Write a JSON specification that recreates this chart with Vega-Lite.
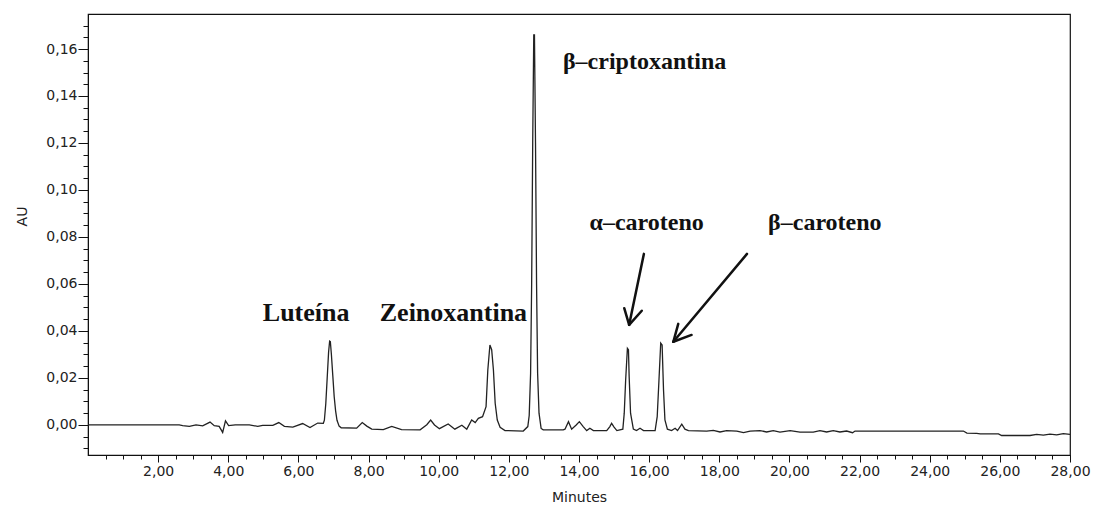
{
  "$schema": "https://vega.github.io/schema/vega-lite/v6.json",
  "width": 982,
  "height": 441,
  "autosize": {"type": "none"},
  "padding": {"left": 88, "top": 14, "right": 25, "bottom": 50},
  "background": "white",
  "config": {
    "view": {"stroke": "#111", "strokeWidth": 1.2},
    "axis": {
      "grid": false,
      "domainColor": "#111",
      "tickColor": "#111",
      "labelFont": "DejaVu Sans",
      "labelFontSize": 14,
      "labelColor": "#222",
      "titleFont": "DejaVu Sans",
      "titleFontSize": 14,
      "titleFontWeight": "normal",
      "titleColor": "#222"
    }
  },
  "datasets": {
    "trace": [
      {"t":0,"v":0},{"t":2.6,"v":0},{"t":2.70,"v":-0.0003},{"t":2.89,"v":-0.0006},{"t":3.08,"v":0},{"t":3.27,"v":-0.0004},{"t":3.48,"v":0.0012},{"t":3.60,"v":-0.0003},{"t":3.74,"v":-0.0006},{"t":3.84,"v":-0.0032},{"t":3.92,"v":0.0017},{"t":4.01,"v":-0.0003},{"t":4.2,"v":0},{"t":4.6,"v":0},{"t":4.84,"v":-0.0006},{"t":4.98,"v":-0.0002},{"t":5.27,"v":-0.0002},{"t":5.44,"v":0.001},{"t":5.60,"v":-0.0006},{"t":5.84,"v":-0.0009},{"t":6.12,"v":0.0006},{"t":6.33,"v":-0.0011},{"t":6.55,"v":0.0008},{"t":6.71,"v":0.0007},
      {"t":6.74,"v":0.002},{"t":6.78,"v":0.009},{"t":6.82,"v":0.020},{"t":6.86,"v":0.031},{"t":6.89,"v":0.0357},{"t":6.91,"v":0.0355},{"t":6.94,"v":0.030},{"t":6.98,"v":0.021},{"t":7.02,"v":0.012},{"t":7.06,"v":0.006},{"t":7.10,"v":0.002},{"t":7.16,"v":-0.0005},{"t":7.22,"v":-0.0012},
      {"t":7.66,"v":-0.0014},{"t":7.82,"v":0.001},{"t":7.95,"v":-0.0005},{"t":8.09,"v":-0.0018},{"t":8.42,"v":-0.002},{"t":8.66,"v":-0.0006},{"t":8.94,"v":-0.002},{"t":9.47,"v":-0.0021},{"t":9.66,"v":0.0001},{"t":9.77,"v":0.0021},{"t":9.88,"v":0},{"t":10.02,"v":-0.0016},{"t":10.27,"v":0.0004},{"t":10.46,"v":-0.0018},{"t":10.66,"v":-0.0001},{"t":10.80,"v":-0.0018},{"t":10.94,"v":0.0021},{"t":11.04,"v":0.001},{"t":11.13,"v":0.0028},{"t":11.25,"v":0.0035},{"t":11.35,"v":0.0078},{"t":11.40,"v":0.0234},{"t":11.46,"v":0.034},{"t":11.51,"v":0.032},{"t":11.56,"v":0.0234},{"t":11.61,"v":0.0092},{"t":11.67,"v":0.0021},{"t":11.75,"v":-0.001},{"t":11.89,"v":-0.0024},{"t":12.41,"v":-0.0026},{"t":12.54,"v":-0.0007},
      {"t":12.58,"v":0.004},{"t":12.62,"v":0.022},{"t":12.65,"v":0.06},{"t":12.68,"v":0.12},{"t":12.71,"v":0.166},{"t":12.73,"v":0.166},{"t":12.76,"v":0.12},{"t":12.79,"v":0.06},{"t":12.82,"v":0.022},{"t":12.86,"v":0.005},{"t":12.92,"v":-0.0015},{"t":12.98,"v":-0.0021},
      {"t":13.55,"v":-0.0021},{"t":13.60,"v":-0.0018},{"t":13.70,"v":0.0014},{"t":13.79,"v":-0.0018},{"t":13.92,"v":0},{"t":14.01,"v":0.0014},{"t":14.12,"v":-0.0007},{"t":14.22,"v":-0.0024},{"t":14.31,"v":-0.0014},{"t":14.41,"v":-0.0024},{"t":14.79,"v":-0.0024},{"t":14.88,"v":-0.0007},{"t":14.93,"v":0.0007},{"t":15.00,"v":-0.0009},{"t":15.08,"v":-0.0024},{"t":15.25,"v":-0.0018},{"t":15.29,"v":0.005},{"t":15.33,"v":0.019},{"t":15.38,"v":0.0326},{"t":15.41,"v":0.032},{"t":15.43,"v":0.0206},{"t":15.47,"v":0.005},{"t":15.55,"v":-0.0018},{"t":15.64,"v":-0.0024},{"t":15.74,"v":-0.0014},{"t":15.84,"v":-0.0024},{"t":16.17,"v":-0.0024},{"t":16.23,"v":0.0035},{"t":16.28,"v":0.019},{"t":16.33,"v":0.0348},{"t":16.37,"v":0.034},{"t":16.41,"v":0.0149},{"t":16.45,"v":0.0021},{"t":16.52,"v":-0.0018},{"t":16.64,"v":-0.0024},{"t":16.74,"v":-0.0014},{"t":16.81,"v":-0.0024},{"t":16.93,"v":0.0003},{"t":17.02,"v":-0.0018},{"t":17.12,"v":-0.0024},
      {"t":17.64,"v":-0.0026},{"t":17.83,"v":-0.0023},{"t":18.02,"v":-0.003},{"t":18.21,"v":-0.0024},{"t":18.50,"v":-0.0026},{"t":18.69,"v":-0.0033},{"t":18.88,"v":-0.0026},{"t":19.16,"v":-0.0024},{"t":19.35,"v":-0.003},{"t":19.54,"v":-0.0024},{"t":19.73,"v":-0.0031},{"t":20.02,"v":-0.0024},{"t":20.30,"v":-0.0031},{"t":20.68,"v":-0.0031},{"t":20.87,"v":-0.0024},{"t":21.06,"v":-0.003},{"t":21.25,"v":-0.0024},{"t":21.44,"v":-0.003},{"t":21.63,"v":-0.0026},{"t":21.80,"v":-0.0033},{"t":21.87,"v":-0.0026},{"t":24.96,"v":-0.0026},{"t":25.06,"v":-0.0035},{"t":25.34,"v":-0.0036},{"t":25.44,"v":-0.0038},{"t":25.96,"v":-0.0038},{"t":26.05,"v":-0.0045},{"t":26.86,"v":-0.0045},{"t":27.05,"v":-0.004},{"t":27.24,"v":-0.0043},{"t":27.43,"v":-0.0039},{"t":27.62,"v":-0.0042},{"t":27.81,"v":-0.0037},{"t":28.0,"v":-0.004}
    ],
    "arrows": [
      {"t":15.85,"v":0.0728,"t2":15.43,"v2":0.0426},
      {"t":15.43,"v":0.0426,"t2":15.29,"v2":0.0497},
      {"t":15.43,"v":0.0426,"t2":15.79,"v2":0.0486},
      {"t":18.79,"v":0.0728,"t2":16.69,"v2":0.0354},
      {"t":16.69,"v":0.0354,"t2":17.21,"v2":0.0383},
      {"t":16.69,"v":0.0354,"t2":16.83,"v2":0.0430}
    ],
    "labels": [
      {"label":"β–criptoxantina","t":15.87,"v":0.1545},
      {"label":"α–caroteno","t":15.93,"v":0.086},
      {"label":"β–caroteno","t":21.01,"v":0.086}
    ],
    "biglabels": [
      {"label":"Luteína","t":6.22,"v":0.0477},
      {"label":"Zeinoxantina","t":10.42,"v":0.0477}
    ]
  },
  "resolve": {"axis": {"x": "independent", "y": "independent"}},
  "layer": [
    {
      "data": {"name": "trace"},
      "mark": {"type": "line", "color": "#222", "strokeWidth": 1.3, "clip": true},
      "encoding": {
        "x": {"field": "t", "type": "quantitative",
          "scale": {"domain": [0, 28], "nice": false, "zero": false},
          "axis": {"orient": "bottom", "values": [2,4,6,8,10,12,14,16,18,20,22,24,26,28],
            "labelExpr": "replace(format(datum.value, '.2f'), '.', ',')",
            "tickSize": 7, "labelPadding": 2, "labelFlush": false,
            "title": "Minutes", "titleY": 46, "titleBaseline": "alphabetic"}},
        "y": {"field": "v", "type": "quantitative",
          "scale": {"domain": [-0.0128, 0.1749], "nice": false, "zero": false},
          "axis": {"orient": "left", "values": [0,0.02,0.04,0.06,0.08,0.1,0.12,0.14,0.16],
            "labelExpr": "replace(format(datum.value, '.2f'), '.', ',')",
            "tickSize": 10, "labelPadding": 1,
            "title": "AU", "titleX": -66, "titleY": 202, "titleBaseline": "middle", "titleAlign": "center"}}
      }
    },
    {
      "data": {"name": "arrows"},
      "mark": {"type": "rule", "color": "#111", "strokeWidth": 2.5, "strokeCap": "round"},
      "encoding": {
        "x": {"field": "t", "type": "quantitative",
          "scale": {"domain": [0, 28], "nice": false, "zero": false},
          "axis": {"orient": "bottom", "values": [0.5,1,1.5,2,2.5,3,3.5,4,4.5,5,5.5,6,6.5,7,7.5,8,8.5,9,9.5,10,10.5,11,11.5,12,12.5,13,13.5,14,14.5,15,15.5,16,16.5,17,17.5,18,18.5,19,19.5,20,20.5,21,21.5,22,22.5,23,23.5,24,24.5,25,25.5,26,26.5,27,27.5],
            "labels": false, "tickSize": 4, "title": null, "domain": false}},
        "y": {"field": "v", "type": "quantitative",
          "scale": {"domain": [-0.0128, 0.1749], "nice": false, "zero": false},
          "axis": {"orient": "left", "values": [-0.01,-0.005,0,0.005,0.01,0.015,0.02,0.025,0.03,0.035,0.04,0.045,0.05,0.055,0.06,0.065,0.07,0.075,0.08,0.085,0.09,0.095,0.1,0.105,0.11,0.115,0.12,0.125,0.13,0.135,0.14,0.145,0.15,0.155,0.16,0.165,0.17],
            "labels": false, "tickSize": 5, "title": null, "domain": false}},
        "x2": {"field": "t2"},
        "y2": {"field": "v2"}
      }
    },
    {
      "data": {"name": "labels"},
      "mark": {"type": "text", "font": "Liberation Serif", "fontWeight": "bold", "fontSize": 24, "color": "#111", "baseline": "middle", "align": "center"},
      "encoding": {
        "x": {"field": "t", "type": "quantitative", "axis": null},
        "y": {"field": "v", "type": "quantitative", "axis": null},
        "text": {"field": "label"}
      }
    },
    {
      "data": {"name": "biglabels"},
      "mark": {"type": "text", "font": "Liberation Serif", "fontWeight": "bold", "fontSize": 26, "color": "#111", "baseline": "middle", "align": "center"},
      "encoding": {
        "x": {"field": "t", "type": "quantitative", "axis": null},
        "y": {"field": "v", "type": "quantitative", "axis": null},
        "text": {"field": "label"}
      }
    }
  ]
}
